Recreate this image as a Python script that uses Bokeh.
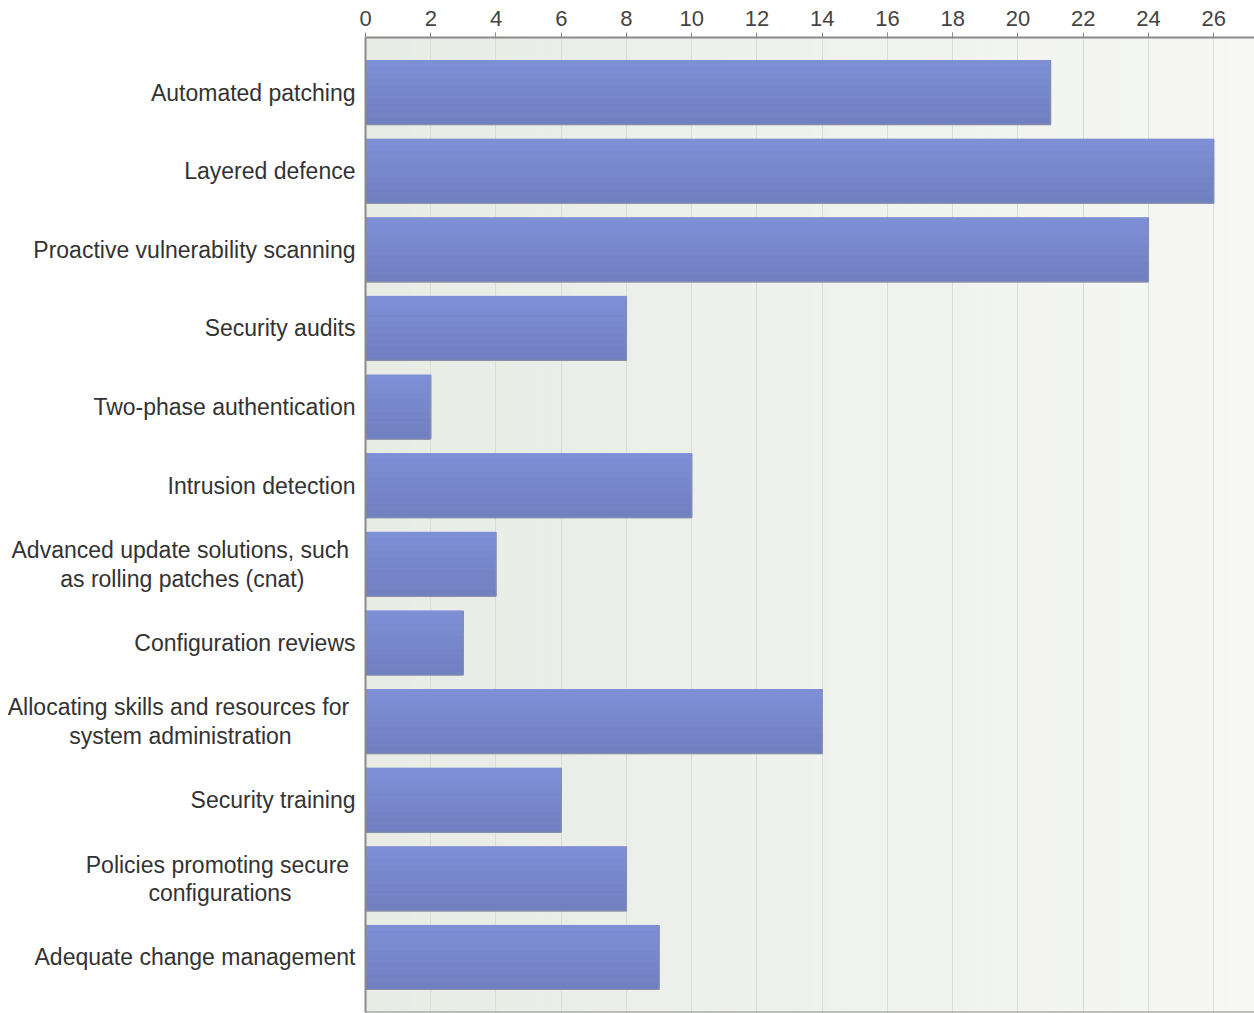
import numpy as np
from bokeh.plotting import figure
from bokeh.models import Range1d, FixedTicker, Span
from bokeh.embed import file_html
from bokeh.resources import INLINE

NB = "\u00a0"
categories = [
    "Automated patching",
    "Layered defence",
    "Proactive vulnerability scanning",
    "Security audits",
    "Two-phase authentication",
    "Intrusion detection",
    "Advanced update solutions, such" + NB + "\nas rolling patches (cnat)" + NB * 8,
    "Configuration reviews",
    "Allocating skills and resources for" + NB + "\nsystem administration" + NB * 10,
    "Security training",
    "Policies promoting secure" + NB + "\nconfigurations" + NB * 10,
    "Adequate change management",
]
values = [21, 26, 24, 8, 2, 10, 4, 3, 14, 6, 8, 9]
x_ticks = list(range(0, 27, 2))

FONT = "Liberation Sans"
X_MAX = 27.25
Y_TOP, Y_BOT = -0.7, 11.7
BAR_H = 0.815

p = figure(width=1254, height=1013, output_backend="svg", toolbar_location=None,
           x_range=Range1d(0, X_MAX), y_range=Range1d(Y_BOT, Y_TOP),
           x_axis_location="above", min_border_left=365, min_border_top=37,
           min_border_right=0, min_border_bottom=1)
p.outline_line_color = None
p.background_fill_color = "#eef1eb"
p.border_fill_color = "white"

# background horizontal gradient
n_bg = 60
edges = np.linspace(0, X_MAX, n_bg + 1)
c0 = np.array([0xe8, 0xec, 0xe5]); c1 = np.array([0xf6, 0xf7, 0xf4])
bg_cols = ["#%02x%02x%02x" % tuple(int(round(v)) for v in c0 + (c1 - c0) * t)
           for t in np.linspace(0, 1, n_bg)]
bg = p.quad(left=edges[:-1], right=edges[1:], top=Y_TOP, bottom=Y_BOT,
            fill_color=bg_cols, line_color=bg_cols, line_width=0.5)
bg.level = "image"

# bars: base plus vertical gradient strips
idx = np.arange(len(values))
p.hbar(y=idx, left=0, right=values, height=BAR_H, fill_color="#7888cb", line_color=None)
n_strip = 10
top_c = np.array([0x80, 0x90, 0xd7]); bot_c = np.array([0x6f, 0x7f, 0xbf])
for k in range(n_strip):
    t = (k + 0.5) / n_strip
    col = "#%02x%02x%02x" % tuple(int(round(v)) for v in top_c + (bot_c - top_c) * t)
    ys = idx - BAR_H / 2 + (k + 0.5) * BAR_H / n_strip
    p.hbar(y=ys, left=0, right=values, height=BAR_H / n_strip,
           fill_color=col, line_color=col, line_width=1)
# subtle shadow edges (bottom and right)
p.segment(x0=[0] * len(values), x1=values, y0=idx + BAR_H / 2, y1=idx + BAR_H / 2,
          line_color="#8a8fa6", line_width=1.2)
p.segment(x0=values, x1=values, y0=idx - BAR_H / 2, y1=idx + BAR_H / 2,
          line_color="#8a8fa6", line_width=1.2)

# grid
p.ygrid.grid_line_color = None
p.xgrid.ticker = FixedTicker(ticks=x_ticks)
p.xgrid.grid_line_color = "#d9dcd7"
p.xgrid.grid_line_width = 1

# top axis
xa = p.xaxis[0]
xa.ticker = FixedTicker(ticks=x_ticks)
xa.axis_line_color = "#8a8a8a"
xa.axis_line_width = 2
xa.major_tick_line_color = "#8a8a8a"
xa.major_tick_out = 5
xa.major_tick_in = 0
xa.minor_tick_line_color = None
xa.major_label_text_font = FONT
xa.major_label_text_font_size = "22px"
xa.major_label_text_color = "#444444"
xa.major_label_standoff = 7

# left axis
ya = p.yaxis[0]
ya.ticker = FixedTicker(ticks=list(idx))
ya.major_label_overrides = {int(i): c for i, c in enumerate(categories)}
ya.axis_line_color = "#8a8a8a"
ya.axis_line_width = 2
ya.major_tick_line_color = None
ya.minor_tick_line_color = None
ya.major_label_text_font = FONT
ya.major_label_text_font_size = "23px"
ya.major_label_text_color = "#333333"
ya.major_label_standoff = 4
ya.major_label_text_line_height = 1.1

p.add_layout(Span(location=Y_BOT, dimension="width", line_color="#8a8a8a", line_width=2))

open("out.html", "w").write(file_html(p, INLINE))
